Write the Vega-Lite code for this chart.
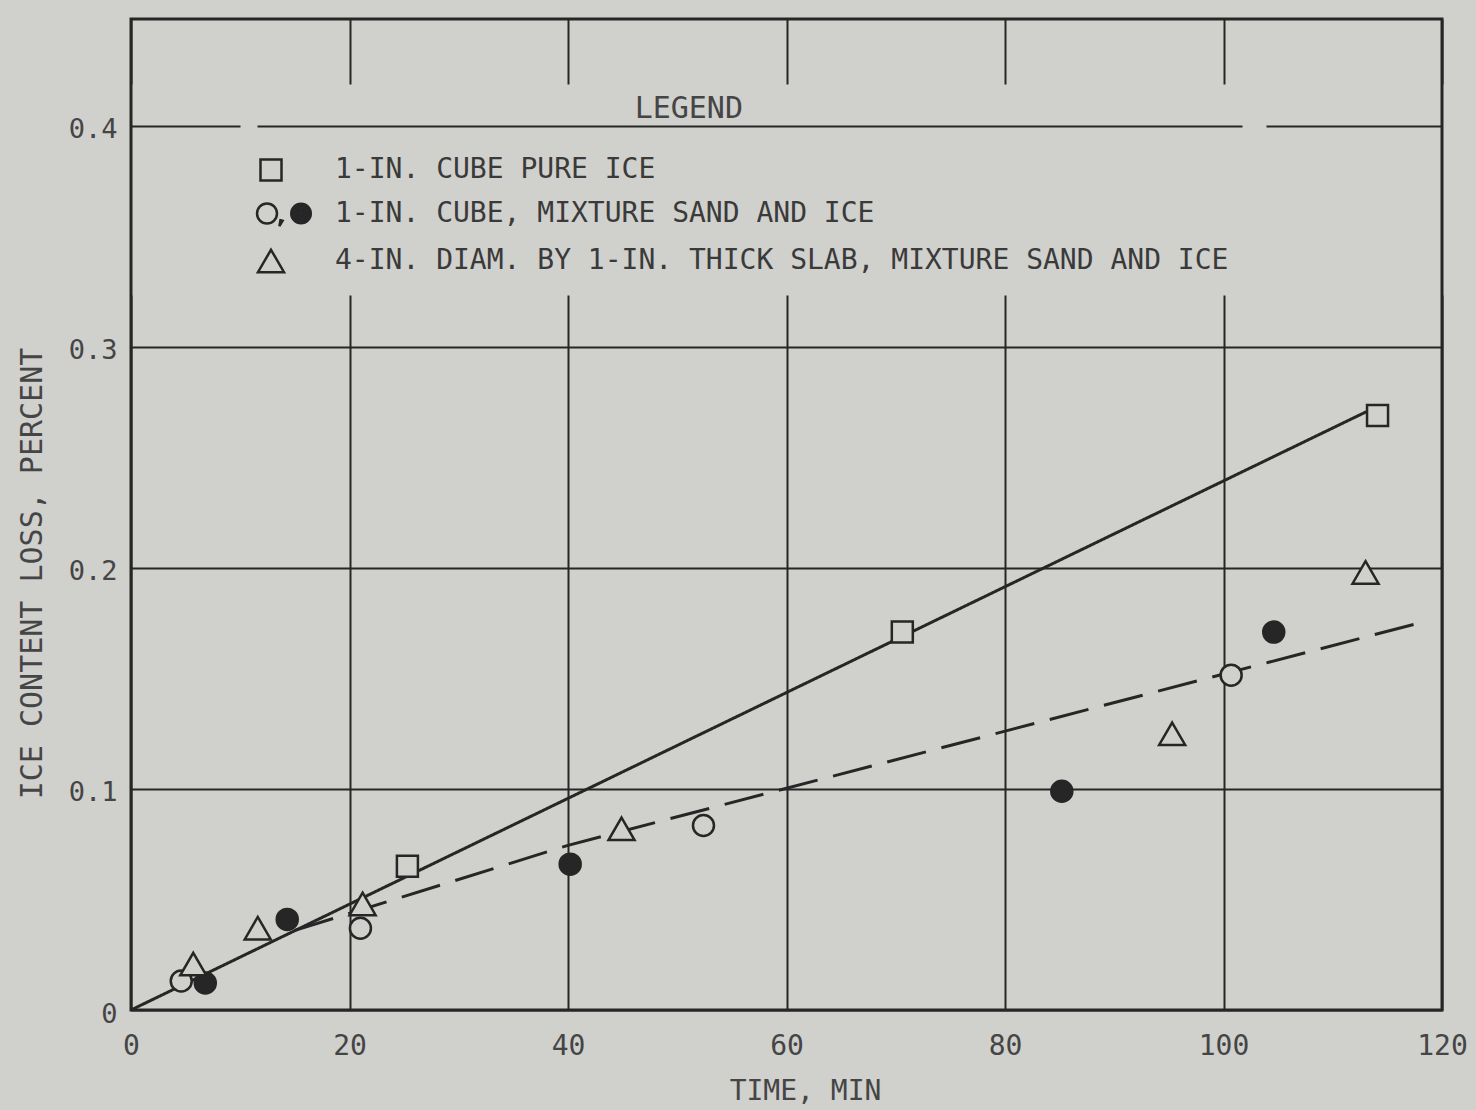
{
  "$schema": "https://vega.github.io/schema/vega-lite/v6.json",
  "width": 1311,
  "height": 991,
  "autosize": {"type": "none"},
  "padding": {"left": 131, "top": 19, "right": 34, "bottom": 100},
  "background": "#d0d0cd",
  "datasets": {
    "points": [
      {"sample": "1-IN. CUBE PURE ICE", "marker": "open", "time_min": 25.3, "loss_pct": 0.065},
      {"sample": "1-IN. CUBE PURE ICE", "marker": "open", "time_min": 70.6, "loss_pct": 0.171},
      {"sample": "1-IN. CUBE PURE ICE", "marker": "open", "time_min": 114.1, "loss_pct": 0.269},
      {"sample": "1-IN. CUBE, MIXTURE SAND AND ICE", "marker": "open", "time_min": 4.6, "loss_pct": 0.0131},
      {"sample": "1-IN. CUBE, MIXTURE SAND AND ICE", "marker": "open", "time_min": 21.0, "loss_pct": 0.037},
      {"sample": "1-IN. CUBE, MIXTURE SAND AND ICE", "marker": "open", "time_min": 52.4, "loss_pct": 0.0835},
      {"sample": "1-IN. CUBE, MIXTURE SAND AND ICE", "marker": "open", "time_min": 100.7, "loss_pct": 0.1515},
      {"sample": "1-IN. CUBE, MIXTURE SAND AND ICE", "marker": "solid", "time_min": 6.8, "loss_pct": 0.0122},
      {"sample": "1-IN. CUBE, MIXTURE SAND AND ICE", "marker": "solid", "time_min": 14.3, "loss_pct": 0.041},
      {"sample": "1-IN. CUBE, MIXTURE SAND AND ICE", "marker": "solid", "time_min": 40.2, "loss_pct": 0.066},
      {"sample": "1-IN. CUBE, MIXTURE SAND AND ICE", "marker": "solid", "time_min": 85.2, "loss_pct": 0.099},
      {"sample": "1-IN. CUBE, MIXTURE SAND AND ICE", "marker": "solid", "time_min": 104.6, "loss_pct": 0.171},
      {"sample": "4-IN. DIAM. BY 1-IN. THICK SLAB, MIXTURE SAND AND ICE", "marker": "open", "time_min": 5.7, "loss_pct": 0.0208},
      {"sample": "4-IN. DIAM. BY 1-IN. THICK SLAB, MIXTURE SAND AND ICE", "marker": "open", "time_min": 11.6, "loss_pct": 0.037},
      {"sample": "4-IN. DIAM. BY 1-IN. THICK SLAB, MIXTURE SAND AND ICE", "marker": "open", "time_min": 21.2, "loss_pct": 0.048},
      {"sample": "4-IN. DIAM. BY 1-IN. THICK SLAB, MIXTURE SAND AND ICE", "marker": "open", "time_min": 44.9, "loss_pct": 0.082},
      {"sample": "4-IN. DIAM. BY 1-IN. THICK SLAB, MIXTURE SAND AND ICE", "marker": "open", "time_min": 95.3, "loss_pct": 0.125},
      {"sample": "4-IN. DIAM. BY 1-IN. THICK SLAB, MIXTURE SAND AND ICE", "marker": "open", "time_min": 113.0, "loss_pct": 0.198}
    ],
    "fits": [
      {"fit": "pure ice", "time_min": 0, "loss_pct": 0},
      {"fit": "pure ice", "time_min": 113.2, "loss_pct": 0.271},
      {"fit": "sand and ice", "time_min": 15, "loss_pct": 0.036},
      {"fit": "sand and ice", "time_min": 40, "loss_pct": 0.0745},
      {"fit": "sand and ice", "time_min": 118.2, "loss_pct": 0.1755}
    ]
  },
  "encoding": {
    "x": {
      "field": "time_min",
      "type": "quantitative",
      "scale": {"domain": [0, 120], "nice": false, "zero": false},
      "axis": {
        "values": [0, 20, 40, 60, 80, 100, 120],
        "title": "TIME, MIN",
        "grid": true,
        "gridColor": "#262626",
        "gridWidth": 2,
        "gridOpacity": 1,
        "gridDash": [65, 211, 1200],
        "domain": false,
        "ticks": false,
        "labelPadding": 36,
        "labelBaseline": "middle",
        "labelFontSize": 28,
        "labelFlush": false,
        "titleFontSize": 28,
        "titleX": 674,
        "titleY": 81,
        "titleBaseline": "middle",
        "titleAlign": "center"
      }
    },
    "y": {
      "field": "loss_pct",
      "type": "quantitative",
      "scale": {"domain": [0, 0.4484], "nice": false, "zero": false},
      "axis": {
        "values": [0, 0.1, 0.2, 0.3, 0.4],
        "format": ".1~f",
        "title": "ICE CONTENT LOSS, PERCENT",
        "grid": true,
        "gridColor": "#262626",
        "gridWidth": 2,
        "gridOpacity": 1,
        "gridDash": {"condition": {"test": "datum.value > 0.35", "value": [109, 17, 985, 24, 400]}, "value": [1, 0]},
        "domain": false,
        "ticks": false,
        "labelPadding": 14,
        "labelOffset": 4,
        "labelFontSize": 27,
        "labelFlush": false,
        "titleFontSize": 30,
        "titleX": -99,
        "titleY": 554,
        "titleAngle": -90,
        "titleBaseline": "middle",
        "titleAlign": "center"
      }
    }
  },
  "layer": [
    {
      "data": {"name": "fits"},
      "mark": {"type": "line", "color": "#262626", "strokeWidth": 3},
      "encoding": {
        "detail": {"field": "fit", "type": "nominal"},
        "strokeDash": {
          "field": "fit",
          "type": "nominal",
          "scale": {"domain": ["pure ice", "sand and ice"], "range": [[1, 0], [40, 16]]},
          "legend": null
        }
      }
    },
    {
      "data": {"name": "points"},
      "mark": {"type": "point", "filled": true, "stroke": "#262626", "strokeWidth": 2.5, "size": 441, "opacity": 1},
      "encoding": {
        "shape": {
          "field": "sample",
          "type": "nominal",
          "scale": {
            "domain": ["1-IN. CUBE PURE ICE", "1-IN. CUBE, MIXTURE SAND AND ICE", "4-IN. DIAM. BY 1-IN. THICK SLAB, MIXTURE SAND AND ICE"],
            "range": ["square", "circle", "M 0 -1.07 L 1.24 1.07 L -1.24 1.07 Z"]
          },
          "legend": null
        },
        "fill": {
          "field": "marker",
          "type": "nominal",
          "scale": {"domain": ["open", "solid"], "range": ["#d0d0cd", "#262626"]},
          "legend": null
        }
      }
    },
    {
      "data": {"name": "points"},
      "transform": [{"filter": "false"}],
      "mark": {"type": "point", "filled": false, "color": "#262626", "stroke": "#262626", "strokeWidth": 2.5, "size": 441},
      "encoding": {
        "shape": {
          "field": "sample",
          "type": "nominal",
          "scale": {
            "domain": ["1-IN. CUBE PURE ICE", "1-IN. CUBE, MIXTURE SAND AND ICE", "4-IN. DIAM. BY 1-IN. THICK SLAB, MIXTURE SAND AND ICE"],
            "range": [
              "square",
              "M -1.33 0 A 0.95 0.95 0 1 1 0.57 0 A 0.95 0.95 0 1 1 -1.33 0 Z M 0.9 0.65 L 1.1 0.7 L 0.8 1.2 Z M 1.93 0 A 0.93 0.93 0 1 1 3.79 0 A 0.93 0.93 0 1 1 1.93 0 Z M 2.14 0 A 0.72 0.72 0 1 1 3.58 0 A 0.72 0.72 0 1 1 2.14 0 Z M 2.35 0 A 0.51 0.51 0 1 1 3.37 0 A 0.51 0.51 0 1 1 2.35 0 Z M 2.56 0 A 0.3 0.3 0 1 1 3.16 0 A 0.3 0.3 0 1 1 2.56 0 Z M 2.76 0 A 0.1 0.1 0 1 1 2.96 0 A 0.1 0.1 0 1 1 2.76 0 Z",
              "M 0 -1.07 L 1.24 1.07 L -1.24 1.07 Z"
            ]
          },
          "legend": {
            "title": "LEGEND",
            "orient": "none",
            "direction": "vertical",
            "legendX": 126,
            "legendY": 75,
            "padding": 0,
            "titleAnchor": "middle",
            "titleAlign": "right",
            "titlePadding": 32,
            "titleFontSize": 30,
            "titleFontWeight": "normal",
            "titleColor": "#454545",
            "labelFontSize": 28,
            "labelColor": "#3a3a3a",
            "labelOffset": 50,
            "labelLimit": 0,
            "symbolSize": 441,
            "symbolStrokeWidth": 2.5,
            "symbolStrokeColor": "#262626",
            "symbolFillColor": "#d0d0cd",
            "symbolOpacity": 1,
            "rowPadding": 12.5
          }
        }
      }
    }
  ],
  "resolve": {"scale": {"shape": "independent"}, "legend": {"shape": "independent"}},
  "config": {
    "font": "DejaVu Sans Mono",
    "view": {"stroke": "#262626", "strokeWidth": 3, "fill": null},
    "axis": {
      "labelFont": "DejaVu Sans Mono",
      "titleFont": "DejaVu Sans Mono",
      "labelColor": "#454545",
      "titleColor": "#454545",
      "titleFontWeight": "normal"
    },
    "legend": {
      "labelFont": "DejaVu Sans Mono",
      "titleFont": "DejaVu Sans Mono"
    }
  }
}
